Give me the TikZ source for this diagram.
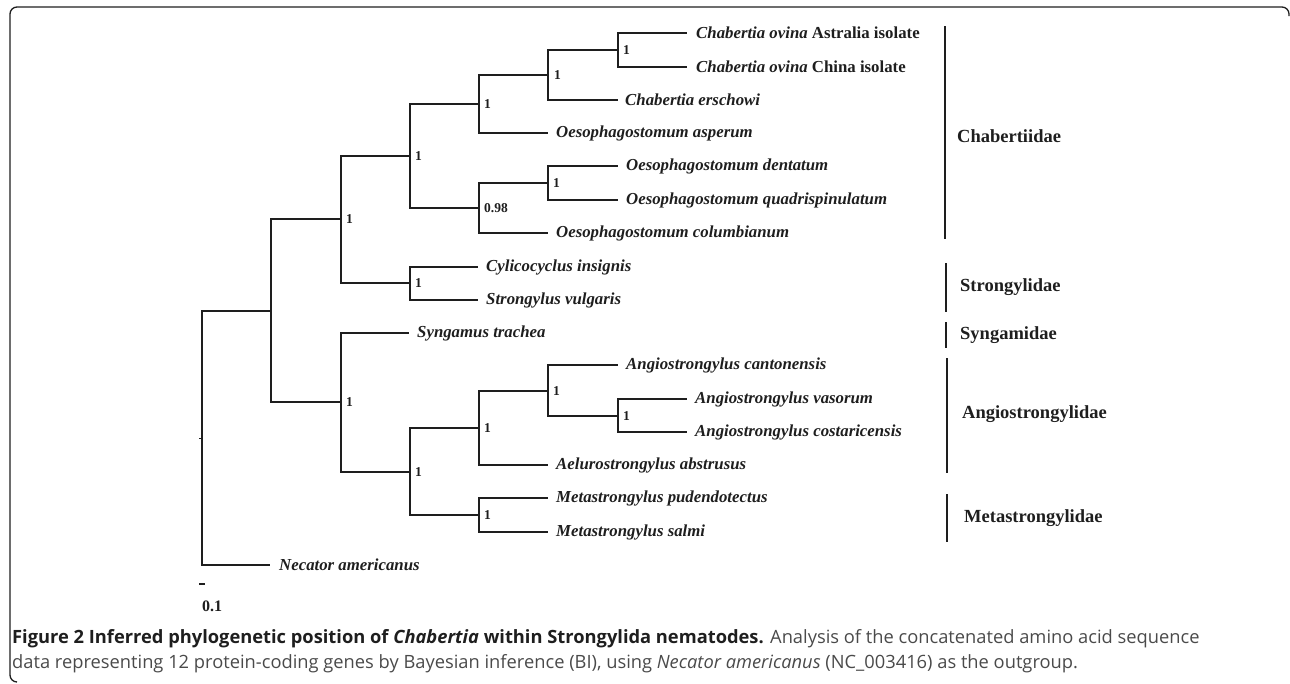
\documentclass[tikz,border=0pt]{standalone}
\usepackage{fontspec}
\setmainfont{Liberation Serif}
\newfontfamily\capfont{Open Sans}
\definecolor{ink}{HTML}{1E1E1E}
\definecolor{capgray}{HTML}{4A4A4A}
\tikzset{
  branch/.style={line width=2.1pt, draw=ink},
  leaf/.style={anchor=west, inner sep=0pt, text=ink, font=\fontsize{16.8}{18}\selectfont\bfseries\itshape},
  supp/.style={anchor=west, inner sep=0pt, text=ink, font=\fontsize{13.5}{15}\selectfont\bfseries},
  cladebar/.style={line width=2pt, draw=ink},
  cladelbl/.style={anchor=west, inner sep=0pt, text=ink, font=\fontsize{18.5}{20}\selectfont\bfseries},
  capline/.style={anchor=base west, inner sep=0pt, text=capgray, font=\capfont\fontsize{18.3}{22}\selectfont},
}
\begin{document}
\begin{tikzpicture}[x=1pt,y=-1pt]
\useasboundingbox (0,0) rectangle (1290,683);
% frame
\draw[line width=1.3pt, draw=ink, rounded corners=7pt] (17,682) -- (10,682) -- (10,7) -- (1289,7) -- (1289,16);
% leaves
\coordinate (l1) at (687,33);
\coordinate (l2) at (687,67);
\coordinate (l3) at (618,100);
\coordinate (l4) at (548,133);
\coordinate (l5) at (618,166);
\coordinate (l6) at (618,200);
\coordinate (l7) at (548,233);
\coordinate (l8) at (478,267);
\coordinate (l9) at (478,300);
\coordinate (l10) at (409,333);
\coordinate (l11) at (618,365);
\coordinate (l12) at (687,399);
\coordinate (l13) at (687,432);
\coordinate (l14) at (548,465);
\coordinate (l15) at (548,498);
\coordinate (l16) at (548,532);
\coordinate (l17) at (270,565);
% internal nodes
\coordinate (nO) at (618,50);
\coordinate (nN) at (548,75);
\coordinate (nM) at (479,104);
\coordinate (nL) at (548,183);
\coordinate (nK) at (479,208);
\coordinate (nC) at (410,156);
\coordinate (nD) at (410,283);
\coordinate (nB) at (341,219);
\coordinate (nI) at (618,416);
\coordinate (nH) at (548,391);
\coordinate (nG) at (479,428);
\coordinate (nJ) at (479,515);
\coordinate (nF) at (410,472);
\coordinate (nE) at (341,402);
\coordinate (nA) at (271,311);
\coordinate (root) at (202,438);
\coordinate (stub) at (199,438);
% branches
\draw[branch] (nO) |- (l1); \draw[branch] (nO) |- (l2);
\draw[branch] (nN) |- (nO); \draw[branch] (nN) |- (l3);
\draw[branch] (nM) |- (nN); \draw[branch] (nM) |- (l4);
\draw[branch] (nL) |- (l5); \draw[branch] (nL) |- (l6);
\draw[branch] (nK) |- (nL); \draw[branch] (nK) |- (l7);
\draw[branch] (nC) |- (nM); \draw[branch] (nC) |- (nK);
\draw[branch] (nD) |- (l8); \draw[branch] (nD) |- (l9);
\draw[branch] (nB) |- (nC); \draw[branch] (nB) |- (nD);
\draw[branch] (nI) |- (l12); \draw[branch] (nI) |- (l13);
\draw[branch] (nH) |- (l11); \draw[branch] (nH) |- (nI);
\draw[branch] (nG) |- (nH); \draw[branch] (nG) |- (l14);
\draw[branch] (nJ) |- (l15); \draw[branch] (nJ) |- (l16);
\draw[branch] (nF) |- (nG); \draw[branch] (nF) |- (nJ);
\draw[branch] (nE) |- (l10); \draw[branch] (nE) |- (nF);
\draw[branch] (nA) |- (nB); \draw[branch] (nA) |- (nE);
\draw[branch] (root) |- (nA); \draw[branch] (root) |- (l17);
\draw[line width=1pt, draw=ink] (stub) -- (root);
% support values
\node[supp] (sO) at ([xshift=5pt]nO) {1};
\node[supp] (sN) at ([xshift=6pt]nN) {1};
\node[supp] (sM) at ([xshift=5pt]nM) {1};
\node[supp] (sL) at ([xshift=5pt]nL) {1};
\node[supp] (sK) at ([xshift=5pt]nK) {0.98};
\node[supp] (sC) at ([xshift=5pt]nC) {1};
\node[supp] (sD) at ([xshift=5pt]nD) {1};
\node[supp] (sB) at ([xshift=5pt]nB) {1};
\node[supp] (sI) at ([xshift=5pt]nI) {1};
\node[supp] (sH) at ([xshift=5pt]nH) {1};
\node[supp] (sG) at ([xshift=5pt]nG) {1};
\node[supp] (sJ) at ([xshift=5pt]nJ) {1};
\node[supp] (sF) at ([xshift=5pt]nF) {1};
\node[supp] (sE) at ([xshift=5pt]nE) {1};
% leaf labels
\node[leaf] (t1) at ([xshift=9pt]l1) {Chabertia ovina \upshape Astralia isolate};
\node[leaf] (t2) at ([xshift=9pt]l2) {Chabertia ovina \upshape China isolate};
\node[leaf] (t3) at ([xshift=7pt]l3) {Chabertia erschowi};
\node[leaf] (t4) at ([xshift=8pt]l4) {Oesophagostomum asperum};
\node[leaf] (t5) at ([xshift=8pt]l5) {Oesophagostomum dentatum};
\node[leaf] (t6) at ([xshift=8pt]l6) {Oesophagostomum quadrispinulatum};
\node[leaf] (t7) at ([xshift=8pt]l7) {Oesophagostomum columbianum};
\node[leaf] (t8) at ([xshift=8pt]l8) {Cylicocyclus insignis};
\node[leaf] (t9) at ([xshift=8pt]l9) {Strongylus vulgaris};
\node[leaf] (t10) at ([xshift=8pt]l10) {Syngamus trachea};
\node[leaf] (t11) at ([xshift=8pt]l11) {Angiostrongylus cantonensis};
\node[leaf] (t12) at ([xshift=8pt]l12) {Angiostrongylus vasorum};
\node[leaf] (t13) at ([xshift=8pt]l13) {Angiostrongylus costaricensis};
\node[leaf] (t14) at ([xshift=8pt]l14) {Aelurostrongylus abstrusus};
\node[leaf] (t15) at ([xshift=8pt]l15) {Metastrongylus pudendotectus};
\node[leaf] (t16) at ([xshift=8pt]l16) {Metastrongylus salmi};
\node[leaf] (t17) at ([xshift=9pt]l17) {Necator americanus};
% clade bars
\coordinate (b1a) at (945,26);  \coordinate (b1b) at (945,239);
\coordinate (b2a) at (946,263); \coordinate (b2b) at (946,312);
\coordinate (b3a) at (946,322); \coordinate (b3b) at (946,348);
\coordinate (b4a) at (947,358); \coordinate (b4b) at (947,473);
\coordinate (b5a) at (947,494); \coordinate (b5b) at (947,542);
\draw[cladebar] (b1a) -- (b1b);
\draw[cladebar] (b2a) -- (b2b);
\draw[cladebar] (b3a) -- (b3b);
\draw[cladebar] (b4a) -- (b4b);
\draw[cladebar] (b5a) -- (b5b);
\node[cladelbl] (c1) at (957,136) {Chabertiidae};
\node[cladelbl] (c2) at (960,287) {Strongylidae};
\node[cladelbl] (c3) at (960,335) {Syngamidae};
\node[cladelbl] (c4) at (962,414) {Angiostrongylidae};
\node[cladelbl] (c5) at (964,518) {Metastrongylidae};
% scale bar
\coordinate (sb1) at (199,584); \coordinate (sb2) at (205,584);
\draw[line width=2pt, draw=ink] (sb1) -- (sb2);
\node[anchor=west, inner sep=0pt, text=ink, font=\fontsize{16}{17}\selectfont\bfseries] (sbl) at (202,606) {0.1};
% caption
\node[capline] (cap1) at (12,643) {\textcolor{ink}{\bfseries Figure 2 Inferred phylogenetic position of \textit{Chabertia} within Strongylida nematodes.} Analysis of the concatenated amino acid sequence};
\node[capline] (cap2) at (12,668) {data representing 12 protein-coding genes by Bayesian inference (BI), using \textit{Necator americanus} (NC\_003416) as the outgroup.};
\end{tikzpicture}
\end{document}
